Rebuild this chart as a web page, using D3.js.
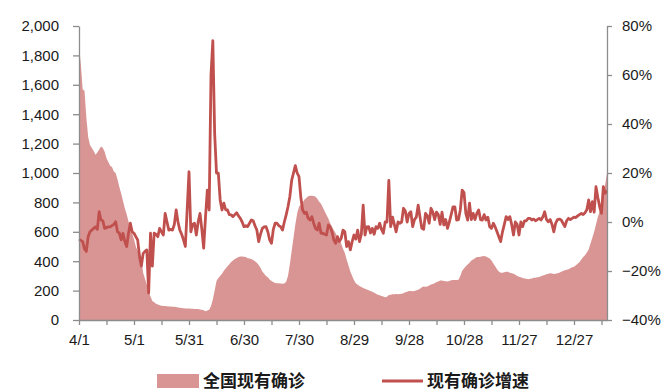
<!DOCTYPE html>
<html><head><meta charset="utf-8">
<script src="https://cdn.jsdelivr.net/npm/d3@7"></script>
<style>
html,body{margin:0;padding:0;background:#fff;}
svg{display:block;font-family:"Liberation Sans",Arial,sans-serif;}
</style></head>
<body><svg id="chart" width="663" height="391"></svg>
<script>
// Daily data from 2020-04-01 (index 0) to 2021-01-14 (index 288)
const startDate = new Date(2020, 3, 1);
const tickLabels = ["4/1","5/1","5/31","6/30","7/30","8/29","9/28","10/28","11/27","12/27"];
const leftTicks = [0,200,400,600,800,1000,1200,1400,1600,1800,2000];
const rightTicks = [-0.4,-0.2,0,0.2,0.4,0.6,0.8];
const seriesNames = ["全国现有确诊","现有确诊增速"];

// 全国现有确诊 (existing confirmed cases)
const existingCases = [
1870,1740,1570,1560,1380,1245,1190,1170,1150,1125,
1140,1160,1180,1170,1145,1100,1075,1050,1040,1010,
1000,955,905,860,810,760,720,670,630,590,
550,500,470,450,420,320,280,240,190,160,
130,120,110,105,100,97,96,95,93,92,
91,90,90,88,85,83,81,80,79,78,
78,77,76,75,75,74,72,70,66,60,
65,70,95,140,200,265,285,300,315,335,
350,365,380,395,405,415,422,428,432,432,
430,428,420,418,415,408,400,390,375,355,
330,315,300,290,275,265,258,252,250,250,
248,246,248,260,300,380,470,560,650,725,
770,785,800,820,830,842,845,845,843,838,
825,805,790,765,740,715,690,660,635,610,
590,565,540,520,485,455,410,370,330,300,
270,250,240,232,225,218,213,207,202,197,
192,185,178,172,168,163,160,155,158,170,
172,175,176,177,176,177,178,182,188,193,
198,198,195,198,202,205,212,222,228,226,
228,235,242,245,250,258,262,268,268,266,
264,262,265,270,272,272,272,273,300,335,
350,365,378,390,405,412,420,428,428,430,
433,436,432,425,418,405,385,365,345,330,
322,322,325,328,328,322,318,315,308,300,
295,290,286,282,280,278,280,283,287,288,
290,292,298,302,306,312,315,318,316,313,
314,318,322,328,333,338,342,346,352,358,
363,372,382,395,412,428,440,460,480,520,
560,600,650,700,740,775,840,920,1000
];

// 现有确诊增速 (growth rate, %)
const growthRate = [
-7,-7.5,-8,-11,-12,-6,-4,-3.3,-2.6,-2,
-3,4.2,0.8,0.5,-2.6,-2.3,-2,-2,-1.5,-1,
0.1,-4,-4.5,-7.3,-4.6,-8,-10,-4.6,-0.5,-4,
-4.6,-6,-7.3,-14,-18,-12.8,-12,-11.4,-29,-4.6,
-18,-4.6,-5,-6,-2.6,-4,-5.3,3.5,0,-3.3,
-3,-3.3,-1,4.9,0,-3.3,-5,-7.3,-10,5,
20.5,-4,-1,-0.5,-5.3,0,3.5,-3,-10.7,2,
13,4.9,60,74,36,20,19.9,9,4.9,7.7,
5,4.9,3,2.9,2.2,3,3.8,2.5,1.5,0,
-1.9,-1.5,-1.9,-0.5,0.8,0.5,-1.5,-3.3,-8,-5,
-2.6,-2,-1.9,-4,-7.3,-8.7,-3,-0.5,-0.5,-1.5,
-1.9,-3.3,0,2.9,6.2,10.3,17,20,23,20,
18.5,10,4.9,3.5,4,1.5,0.8,2.2,-0.5,-2.6,
-3.3,-0.5,-4.6,-4.6,-5,-5.3,-1.2,-2,-4,-7.3,
-8.7,-6,-8,-6.7,-3.3,-4,-10,-8,-11.4,-8,
-5.3,-7,-3.3,-8,-5,6.9,-5.3,-2,-1.9,-4.5,
-2.6,-5,-1.9,-2.6,-0.5,-3,-4.6,0,0,17,
-1.9,2,-1,-4,0,-0.5,0,5.6,4.5,0,
3.5,4.2,-1.9,1,2,6.9,2,-2.6,-3,3.5,
2.5,-0.5,5.6,4,1,4,3,-1,4,-1.2,
1,-2.6,0,3,6.2,6.2,0.8,1,5,13,
12,3.5,0.8,7.7,1,3.5,1,3.5,4.9,1,
0.8,3,0.8,2,-1.9,-2.6,-0.5,-2,-4,-6,
-8,-4,-1,2.2,1,2.2,-1,-5.3,0,-1,
-5.3,0,-1.9,0.5,0.5,1.5,1.5,0.8,1.2,0.5,
1,1.5,0.8,2,4.2,1,0.1,1,-1,-4,
-0.5,1,1.2,0.8,-0.5,-1.9,0.5,1.5,1,1.5,
2,1.8,2.5,3,3.5,3,3.8,5,9,4.2,
8.3,4,14.4,10,6.2,3.5,14.4,11.7,12.8
];

const AREA_COLOR = "#d99594";
const LINE_COLOR = "#c0504d";
const AXIS_COLOR = "#8c8c8c";
const TEXT_COLOR = "#1a1a1a";

const svg = d3.select("#chart");
const L = 79, R = 607, T = 26, B = 320;
const n = existingCases.length;

const x = d3.scaleLinear().domain([0, n - 1]).range([L, R]);
const yL = d3.scaleLinear().domain([0, 2000]).range([B, T]);
const yR = d3.scaleLinear().domain([-0.4, 0.8]).range([B, T]);

// area
svg.append("path")
  .datum(existingCases)
  .attr("fill", AREA_COLOR)
  .attr("d", d3.area().x((d, i) => x(i)).y0(yL(0)).y1(d => yL(d)));

// line
svg.append("path")
  .datum(growthRate)
  .attr("fill", "none")
  .attr("stroke", LINE_COLOR)
  .attr("stroke-width", 2.8)
  .attr("stroke-linejoin", "round")
  .attr("d", d3.line().x((d, i) => x(i)).y(d => yR(d / 100)));

function styleAxis(g) {
  g.selectAll(".domain").attr("stroke", AXIS_COLOR).attr("stroke-width", 1.3);
  g.selectAll(".tick line").attr("stroke", AXIS_COLOR).attr("stroke-width", 1.3);
  g.selectAll(".tick text").attr("fill", TEXT_COLOR).style("font-size", "15px")
    .style("font-family", "'Liberation Sans', Arial, sans-serif");
}

// left axis
const gL = svg.append("g").attr("transform", `translate(${L},0)`)
  .call(d3.axisLeft(yL).tickValues(leftTicks).tickSize(6).tickSizeOuter(0).tickPadding(14)
    .tickFormat(d3.format(",")));
styleAxis(gL);

// right axis
const gR = svg.append("g").attr("transform", `translate(${R},0)`)
  .call(d3.axisRight(yR).tickValues(rightTicks).tickSize(5).tickSizeOuter(0).tickPadding(10)
    .tickFormat(d3.format(".0%")));
styleAxis(gR);

// bottom axis: ticks every 15 days, labels every 30 days
const tickIdx = d3.range(0, n - 1, 15);
const gB = svg.append("g").attr("transform", `translate(0,${B})`)
  .call(d3.axisBottom(x).tickValues(tickIdx).tickSize(5).tickSizeOuter(0).tickPadding(9)
    .tickFormat(i => (i % 30 === 0 ? tickLabels[i / 30] : "")));
styleAxis(gB);

// legend
const lg = svg.append("g");
lg.append("rect").attr("x", 157).attr("y", 374).attr("width", 42).attr("height", 14).attr("fill", AREA_COLOR);
lg.append("text").attr("x", 203).attr("y", 387).text(seriesNames[0])
  .attr("fill", TEXT_COLOR).style("font-family", "'Noto Sans CJK SC', sans-serif")
  .style("font-weight", "bold").style("font-size", "17px");
lg.append("line").attr("x1", 382).attr("x2", 423).attr("y1", 381).attr("y2", 381)
  .attr("stroke", LINE_COLOR).attr("stroke-width", 3);
lg.append("text").attr("x", 427).attr("y", 387).text(seriesNames[1])
  .attr("fill", TEXT_COLOR).style("font-family", "'Noto Sans CJK SC', sans-serif")
  .style("font-weight", "bold").style("font-size", "17px");
</script></body></html>
